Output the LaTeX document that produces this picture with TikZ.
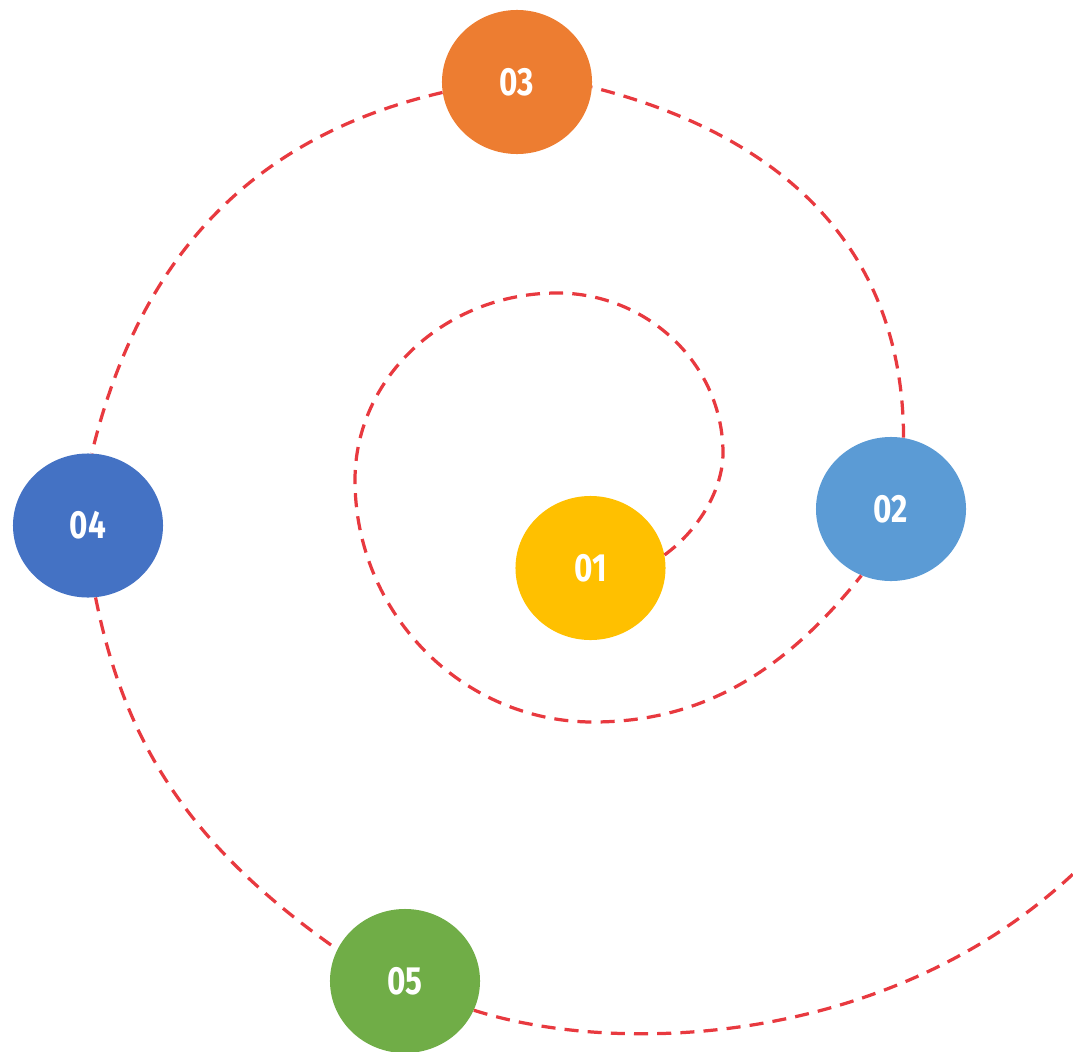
\documentclass[tikz,border=0pt]{standalone}
\usepackage{fontspec}
\setsansfont{Fira Sans}
\usetikzlibrary{shapes.geometric}
\definecolor{stepyellow}{HTML}{FFC000}
\definecolor{stepblue}{HTML}{5B9BD5}
\definecolor{steporange}{HTML}{ED7D31}
\definecolor{stepnavy}{HTML}{4472C4}
\definecolor{stepgreen}{HTML}{70AD47}
\definecolor{spiralred}{HTML}{E8393F}
\newcommand{\steplabel}[1]{\scalebox{0.8}[1]{#1}}
\begin{document}
\begin{tikzpicture}
	[x=0.025cm,y=-0.025cm,
	bubble/.style={ellipse,minimum width=3.75cm,minimum height=3.6cm,
		inner sep=0pt,text=white,
		font=\sffamily\bfseries\fontsize{28}{28}\selectfont},
	spiral/.style={draw=spiralred,line width=2.3pt,
		dash pattern=on 10pt off 6.5pt}]
	\useasboundingbox (0,0) rectangle (1073,1052);
	\node[bubble,fill=stepyellow] (n01) at (590.5,568) {\steplabel{01}};
	\node[bubble,fill=stepblue] (n02) at (891,509) {\steplabel{02}};
	\node[bubble,fill=steporange] (n03) at (517,82) {\steplabel{03}};
	\node[bubble,fill=stepnavy] (n04) at (88,525.5) {\steplabel{04}};
	\node[bubble,fill=stepgreen] (n05) at (405,981) {\steplabel{05}};
	\coordinate (tail) at (1073,874);
	\draw[spiral] (n01.10) .. controls (700,529) and (723,488) .. (723,453)
		.. controls (723,365) and (648,293) .. (557,293)
		.. controls (446,293) and (355,377) .. (355,480)
		.. controls (355,613) and (462,722) .. (593,722)
		.. controls (703,722) and (785,671) .. (n02.246);
	\draw[spiral] (n02.80) .. controls (903,247) and (781,135) .. (n03.-4);
	\draw[spiral] (n03.188) .. controls (250,137) and (139,259) .. (n04.87);
	\draw[spiral] (n04.-84) .. controls (125,744) and (190,846) .. (n05.155);
	\draw[spiral] (n05.-23) .. controls (620,1057) and (890,1045) .. (tail);
\end{tikzpicture}
\end{document}
